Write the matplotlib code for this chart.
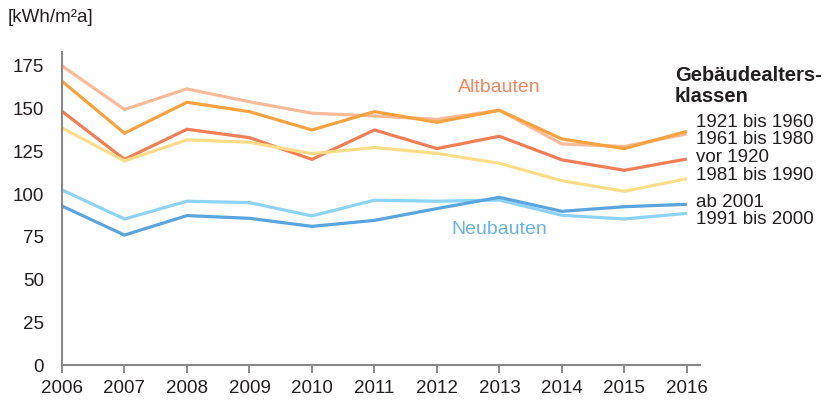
import matplotlib
matplotlib.use("Agg")
import matplotlib.pyplot as plt

plt.rcParams['font.family'] = ['Liberation Sans', 'DejaVu Sans']

years = [2006, 2007, 2008, 2009, 2010, 2011, 2012, 2013, 2014, 2015, 2016]

s_1961_1980 = [175, 149.5, 161.5, 154, 147.3, 145.7, 143.7, 149, 129.3, 127.8, 135.2]
s_1921_1960 = [166, 135.6, 153.7, 148.2, 137.5, 148.2, 142, 149, 132.2, 126.6, 136.7]
s_vor_1920 = [148.4, 120.3, 137.9, 133, 120.3, 137.5, 126.6, 133.8, 120, 113.9, 120.5]
s_1981_1990 = [138.7, 119.4, 131.7, 130.3, 123.6, 127.2, 123.8, 118, 107.8, 101.6, 109]
s_1991_2000 = [102.4, 85.4, 95.8, 95, 87.2, 96.4, 95.8, 96.5, 87.6, 85.4, 88.7]
s_ab_2001 = [93, 76, 87.4, 85.8, 81.1, 84.6, 91.5, 98.1, 89.9, 92.6, 94]

labels = ["1921 bis 1960", "1961 bis 1980", "vor 1920", "1981 bis 1990", "ab 2001", "1991 bis 2000"]
label_y = [141.6, 132.2, 121.1, 110.6, 94.8, 85.4]

yticks = [0, 25, 50, 75, 100, 125, 150, 175]

series = [
    (s_1961_1980, "#FBBB98"),
    (s_1921_1960, "#F9A23F"),
    (s_vor_1920, "#F27E55"),
    (s_1981_1990, "#FFDD88"),
    (s_1991_2000, "#8DD3F5"),
    (s_ab_2001, "#5AA5DD"),
]

FS = 13.5

fig = plt.figure(figsize=(8.26, 4.0), dpi=100)
ax = fig.add_axes([62/826, 1-365/400, (700-62)/826, (365-52)/400])

for vals, col in series:
    ax.plot(years, vals, color=col, lw=2.3, solid_capstyle='butt', solid_joinstyle='miter')

ax.set_xlim(2006, 2016.21)
ax.set_ylim(0, 183.1)
ax.set_xticks(years)
ax.set_xticklabels([str(y) for y in years])
ax.set_yticks(yticks)
ax.tick_params(axis='y', length=0, pad=13, labelsize=FS, labelcolor='#231F20')
ax.tick_params(axis='x', length=5.5, width=1.2, color='#777777', pad=5.5, labelsize=FS, labelcolor='#231F20')
for s in ['top', 'right']:
    ax.spines[s].set_visible(False)
ax.spines['left'].set_color('#888888')
ax.spines['left'].set_linewidth(1.5)
ax.spines['bottom'].set_color('#888888')
ax.spines['bottom'].set_linewidth(1.5)

for lab, yv in zip(labels, label_y):
    ax.text(2016.15, yv, lab, fontsize=FS, color='#231F20', va='center', ha='left', clip_on=False)

fig.text(675/826, 1-86/400, "Gebäudealters-\nklassen", fontsize=14.5, fontweight='bold',
         color='#231F20', ha='left', va='center', linespacing=1.1)
fig.text(8/826, 1-18/400, "[kWh/m²a]", fontsize=FS, color='#231F20', ha='left', va='center')
fig.text(499/826, 1-88/400, "Altbauten", fontsize=14, color='#F5875E', ha='center', va='center')
fig.text(499/826, 1-229/400, "Neubauten", fontsize=14, color='#6AB3E4', ha='center', va='center')

fig.savefig("out.png", dpi=100)
